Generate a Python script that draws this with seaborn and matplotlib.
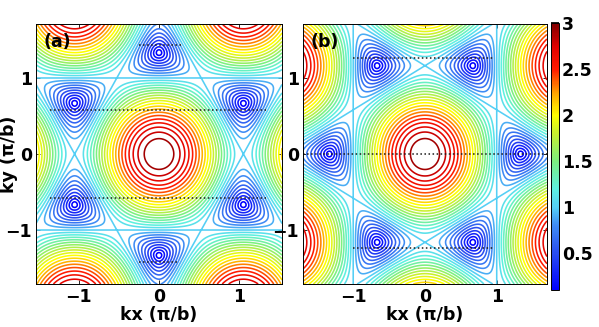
import numpy as np
import matplotlib
matplotlib.use("Agg")
import matplotlib.pyplot as plt
from matplotlib.colors import Normalize, LinearSegmentedColormap
from matplotlib.cm import ScalarMappable
import seaborn as sns

# lattice vectors (units of b) for the two orientations
a_vecs = [(0.0, 1.0), (np.sqrt(3) / 2, 0.5)]
b_vecs = [(1.0, 0.0), (0.5, np.sqrt(3) / 2)]
kx_scale_a = 1.10          # panel (a) kx axis is drawn in slightly different units

levels = [0.1, 0.2, 0.3, 0.4, 0.5, 0.6, 0.7, 0.8, 0.9, 1.0,
          1.1, 1.2, 1.3, 1.4, 1.5, 1.6, 1.7, 1.8, 1.9, 2.0,
          2.1, 2.2, 2.3, 2.4, 2.5, 2.6, 2.7, 2.8, 2.9]
cbar_ticks = [0.5, 1, 1.5, 2, 2.5, 3]
cbar_labels = ["0.5", "1", "1.5", "2", "2.5", "3"]
axis_ticks = [-1, 0, 1]

# colour scale
cmap_values = [0.1, 0.5, 0.8, 1.0, 1.2, 1.5, 1.8, 2.0, 2.25, 2.5, 2.75, 3.0]
cmap_colors = ["#0000ff", "#2a4ef0", "#3f8cf4", "#55d0f5", "#5ef0e0", "#7cf080",
               "#c8f030", "#ffff00", "#ffa000", "#ff1a00", "#e00000", "#800000"]

# dotted cuts: (y, x_start, x_end)
cuts_a = [(0.58, -1.36, 1.33), (-0.58, -1.36, 1.33), (1.44, -0.25, 0.27), (-1.42, -0.25, 0.25)]
cuts_b = [(0.0, -1.70, 1.70), (1.25, -1.0, 0.95), (-1.23, -1.0, 0.95)]

xlim_a, ylim_a = 1.53, 1.71
xlim_b, ylim_b = 1.70, 1.70


def band(kx, ky, vecs):
    p1 = np.pi * (vecs[0][0] * kx + vecs[0][1] * ky)
    p2 = np.pi * (vecs[1][0] * kx + vecs[1][1] * ky)
    return np.abs(1 + np.exp(1j * p1) + np.exp(1j * p2))


sns.set_theme(style="white")
plt.rcParams['font.family'] = ['DejaVu Sans']
plt.rcParams['font.weight'] = 'bold'
plt.rcParams['axes.labelweight'] = 'bold'
for key in ['text.color', 'axes.labelcolor', 'xtick.color', 'ytick.color']:
    plt.rcParams[key] = 'black'
fs = 12.5

vmin, vmax = cmap_values[0], cmap_values[-1]
cmap = LinearSegmentedColormap.from_list(
    "ref", [((v - vmin) / (vmax - vmin), c) for v, c in zip(cmap_values, cmap_colors)])
norm = Normalize(vmin=vmin, vmax=vmax)

fig = plt.figure(figsize=(5.99, 3.27), dpi=100)
ax_a = fig.add_axes([0.0601, 0.1315, 0.4107, 0.7951])
ax_b = fig.add_axes([0.5058, 0.1315, 0.4073, 0.7951])
cax = fig.add_axes([0.9199, 0.1131, 0.0134, 0.8165])

# panel (a)
xa = np.linspace(-xlim_a, xlim_a, 700)
ya = np.linspace(-ylim_a, ylim_a, 700)
XA, YA = np.meshgrid(xa, ya)
ZA = band(XA * kx_scale_a, YA, a_vecs)
ax_a.contour(XA, YA, ZA, levels=levels, cmap=cmap, norm=norm, linewidths=1.15)
for y, x0, x1 in cuts_a:
    ax_a.plot([x0, x1], [y, y], ls=':', color='k', lw=1.1)
ax_a.set_xlim(-xlim_a, xlim_a)
ax_a.set_ylim(-ylim_a, ylim_a)

# panel (b)
xb = np.linspace(-xlim_b, xlim_b, 700)
yb = np.linspace(-ylim_b, ylim_b, 700)
XB, YB = np.meshgrid(xb, yb)
ZB = band(XB, YB, b_vecs)
ax_b.contour(XB, YB, ZB, levels=levels, cmap=cmap, norm=norm, linewidths=1.15)
for y, x0, x1 in cuts_b:
    ax_b.plot([x0, x1], [y, y], ls=':', color='k', lw=1.1)
ax_b.set_xlim(-xlim_b, xlim_b)
ax_b.set_ylim(-ylim_b, ylim_b)

for ax, tag in [(ax_a, "(a)"), (ax_b, "(b)")]:
    ax.set_xticks(axis_ticks)
    ax.set_yticks(axis_ticks)
    ax.tick_params(direction='in', top=True, right=True, bottom=True, left=True,
                   length=3, width=0.6, labelsize=fs, pad=3, colors='black')
    for s in ax.spines.values():
        s.set_color('black')
        s.set_linewidth(0.7)
    ax.set_xlabel("kx (π/b)", fontsize=fs, labelpad=0, color='black')
    ax.text(0.03, 0.965, tag, transform=ax.transAxes, ha='left', va='top',
            fontsize=fs, fontweight='bold', color='black')
ax_a.set_ylabel("ky (π/b)", fontsize=fs, color='black')
ax_a.yaxis.set_label_coords(-0.075, 0.5)

sm = ScalarMappable(norm=norm, cmap=cmap)
cb = fig.colorbar(sm, cax=cax, ticks=cbar_ticks)
cb.ax.set_yticklabels(cbar_labels)
cb.outline.set_linewidth(0.7)
cb.outline.set_edgecolor('black')
cb.ax.tick_params(direction='in', left=True, right=True, length=3, labelsize=fs, pad=2,
                  colors='black')

fig.savefig("out.png", dpi=100)
